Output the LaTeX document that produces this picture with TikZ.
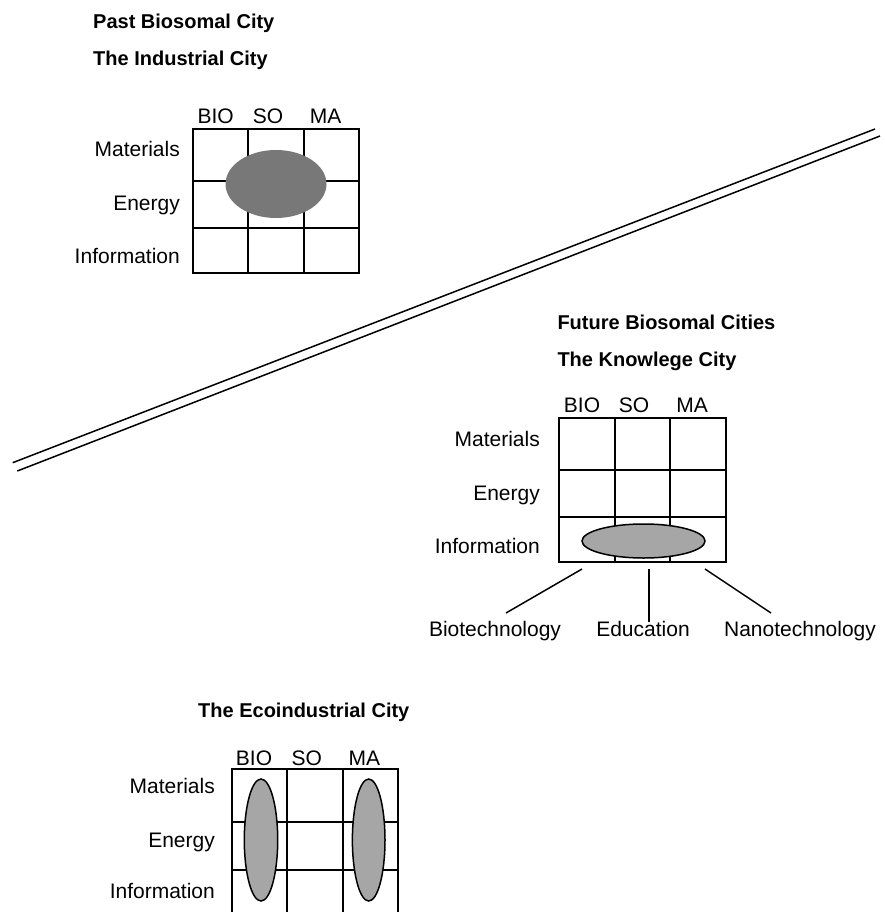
\documentclass[tikz,border=0pt]{standalone}
\usepackage{fontspec}
\setmainfont{Liberation Sans}
\usetikzlibrary{positioning}

\begin{document}
\begin{tikzpicture}[x=1pt,y=-1pt,
  ttl/.style={font=\fontsize{20}{24}\selectfont\bfseries,anchor=base west,inner sep=0pt},
  lbl/.style={font=\fontsize{21}{25}\selectfont,anchor=base east,inner sep=0pt},
  colhead/.style={font=\fontsize{21}{25}\selectfont,anchor=base,inner sep=0pt},
  cell/.style={line width=1.9pt},
  lead/.style={line width=1.5pt},
  blob/.style={draw,line width=1.5pt,fill=black!35}
]
\useasboundingbox (0,0) rectangle (885,912);

% industrial city
\node[ttl] (past) at (93,29) {Past Biosomal City};
\node[ttl] (indus) at (93,66) {The Industrial City};
\node[colhead] (i-bio) at (215.7,124) {BIO};
\node[colhead] (i-so) at (268,124) {SO};
\node[colhead] (i-ma) at (325.7,124) {MA};
\node[lbl] (i-mat) at (180,157) {Materials};
\node[lbl] (i-en) at (180,210) {Energy};
\node[lbl] (i-inf) at (180,263) {Information};
\draw[cell] (192.7,129) rectangle (359,273);
\draw[cell] (248,129) -- (248,273) (303.7,129) -- (303.7,273)
  (192.7,181) -- (359,181) (192.7,228) -- (359,228);
\fill[black!53] (276,184) ellipse [x radius=50.5pt, y radius=34pt];

% divide
\coordinate (ua) at (12.7,462.7);
\coordinate (ub) at (875,129);
\coordinate (la) at (17.3,471);
\coordinate (lb) at (880,136);
\draw[lead] (ua) -- (ub);
\draw[lead] (la) -- (lb);

% knowledge city
\node[ttl] (future) at (557.3,329) {Future Biosomal Cities};
\node[ttl] (know) at (557.3,366) {The Knowlege City};
\node[colhead] (k-bio) at (582,412) {BIO};
\node[colhead] (k-so) at (634,412) {SO};
\node[colhead] (k-ma) at (692,412) {MA};
\node[lbl] (k-mat) at (540,446) {Materials};
\node[lbl] (k-en) at (540,500) {Energy};
\node[lbl] (k-inf) at (540,553) {Information};
\draw[cell] (559,418) rectangle (726,562);
\draw[cell] (615,418) -- (615,562) (670,418) -- (670,562)
  (559,470) -- (726,470) (559,517) -- (726,517);
\draw[blob] (643.5,541) ellipse [x radius=61.5pt, y radius=17pt];
\node[colhead] (biotech) at (495,636) {Biotechnology};
\node[colhead] (edu) at (643,636) {Education};
\node[colhead] (nano) at (800,636) {Nanotechnology};
\coordinate (kb1) at (582,569);
\coordinate (kb2) at (506,613);
\coordinate (ke1) at (649,569);
\coordinate (ke2) at (649,622);
\coordinate (kn1) at (705,569);
\coordinate (kn2) at (771,613);
\draw[lead] (kb1) -- (kb2);
\draw[lead] (ke1) -- (ke2);
\draw[lead] (kn1) -- (kn2);

% ecoindustrial city
\node[ttl] (eco) at (198,717) {The Ecoindustrial City};
\node[colhead] (e-bio) at (254,765) {BIO};
\node[colhead] (e-so) at (306.7,765) {SO};
\node[colhead] (e-ma) at (364.3,765) {MA};
\node[lbl] (e-mat) at (215,793) {Materials};
\node[lbl] (e-en) at (215,847) {Energy};
\node[lbl] (e-inf) at (215,898) {Information};
\draw[cell] (231.7,912) -- (231.7,769) -- (398.3,769) -- (398.3,912);
\draw[cell] (286.7,769) -- (286.7,912) (342.7,769) -- (342.7,912)
  (231.7,822) -- (398.3,822) (231.7,870) -- (398.3,870);
\draw[blob] (261,840) ellipse [x radius=16.7pt, y radius=61pt];
\draw[blob] (368.7,840) ellipse [x radius=16.3pt, y radius=61pt];
\end{tikzpicture}
\end{document}
